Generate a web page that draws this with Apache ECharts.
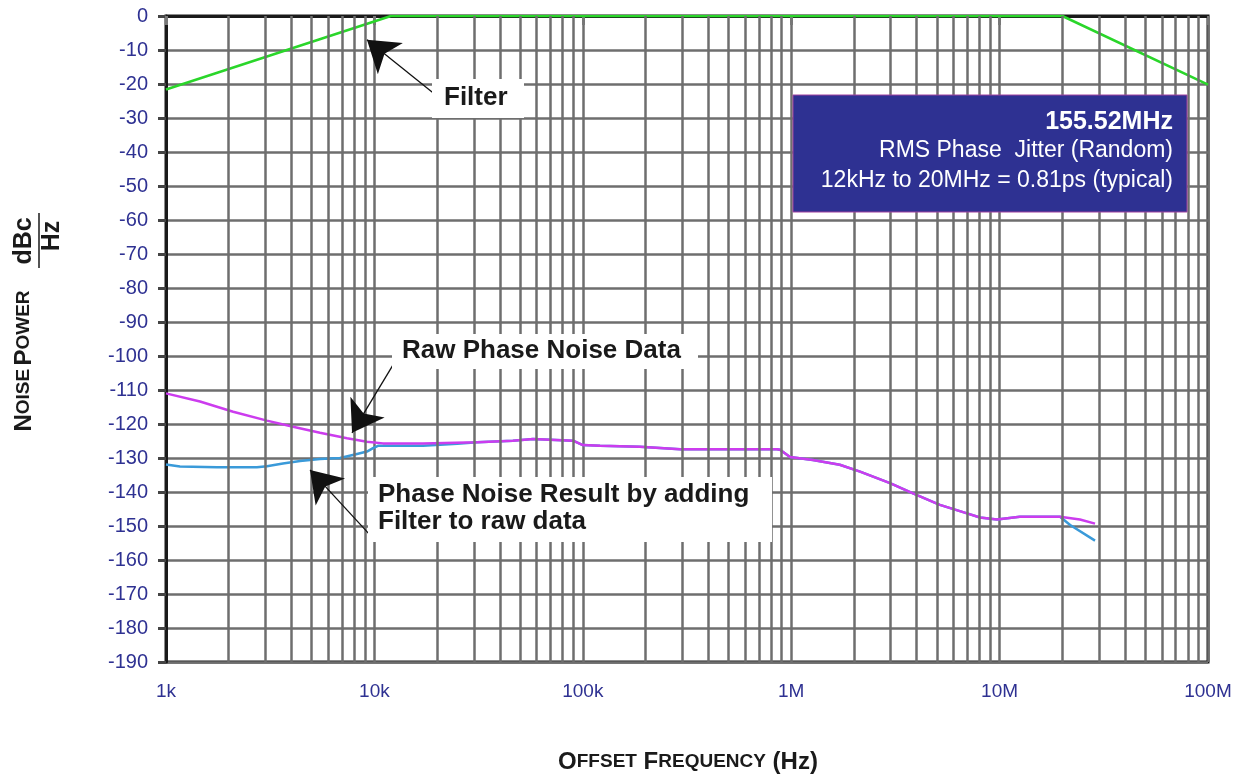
<!DOCTYPE html>
<html>
<head>
<meta charset="utf-8">
<script src="https://cdn.jsdelivr.net/npm/echarts@6/dist/echarts.min.js"></script>
<style>
  html, body { margin: 0; padding: 0; background: #fff; }
  #main { width: 1238px; height: 781px; }
</style>
</head>
<body>
<div id="main"></div>
<script>
// 滤波器响应
var filterFreq = [1000, 12000, 20000000, 100000000];
var filterDb = [-21.6, 0, 0, -20.2];

// 原始相位噪声
var rawFreq = [1000, 1456, 2100, 3050, 4070, 5480, 7390, 9210, 11000, 17100, 31100, 46200, 57700, 89800,
    100000, 121000, 188000, 293000, 855000, 884000, 987000, 1270000, 1710000, 2140000, 2980000, 3840000,
    5170000, 6980000, 8050000, 9710000, 12500000, 19500000, 24300000, 28700000];
var rawDb = [-111.0, -113.4, -116.4, -119.0, -120.8, -122.6, -124.2, -125.2, -125.7, -125.7, -125.4, -124.9, -124.4, -124.9,
    -126.2, -126.4, -126.7, -127.4, -127.4, -127.6, -129.7, -130.6, -132.0, -134.0, -137.4, -140.4,
    -143.8, -146.3, -147.5, -148.1, -147.3, -147.3, -148.1, -149.3];

// 加滤波后的结果
var resultFreq = [1000, 1167, 1757, 2730, 3050, 3640, 4400, 5480, 6840, 8250, 9210, 9850, 10400, 17100, 25000,
    31100, 46200, 57700, 89800, 100000, 121000, 188000, 293000, 855000, 884000, 987000, 1270000, 1710000,
    2140000, 2980000, 3840000, 5170000, 6980000, 8050000, 9710000, 12500000, 19500000, 21800000, 28700000];
var resultDb = [-131.9, -132.5, -132.7, -132.7, -132.4, -131.6, -130.9, -130.3, -130.0, -128.8, -128.1, -127.1, -126.4, -126.4, -125.8,
    -125.4, -124.9, -124.4, -124.9, -126.2, -126.4, -126.7, -127.4, -127.4, -127.6, -129.7, -130.6, -132.0,
    -134.0, -137.4, -140.4, -143.8, -146.3, -147.5, -148.1, -147.3, -147.3, -149.7, -154.3];

var xTickLabels = ['1k', '10k', '100k', '1M', '10M', '100M'];
var decades = [1000, 10000, 100000, 1000000, 10000000];

var font = '"Liberation Sans", Arial, sans-serif';
var axisBlue = '#2e3192';
var gridGray = '#6e6e6e';

var pairs = function (xs, ys) {
    return xs.map(function (x, i) { return [x, ys[i]]; });
};

// 对数网格的次刻度线
var minorLines = [];
decades.forEach(function (d) {
    for (var k = 2; k <= 9; k++) {
        minorLines.push({ xAxis: d * k });
    }
});

var arrow = function (from, to) {
    return [{ coord: from }, { coord: to }];
};

var myChart = echarts.init(document.getElementById('main')),
    option = {
        animation: false,
        textStyle: { fontFamily: font },
        grid: {
            left: 166,
            right: 30,
            top: 16,
            bottom: 119,
            show: true,
            borderColor: '#1a1a1a',
            borderWidth: 3,
            backgroundColor: 'transparent'
        },
        xAxis: {
            type: 'log',
            logBase: 10,
            min: 1000,
            max: 100000000,
            axisLine: { show: true, lineStyle: { color: '#1a1a1a', width: 3 } },
            axisTick: { show: true, length: 9, lineStyle: { color: '#777', width: 3 } },
            axisLabel: {
                color: axisBlue,
                fontSize: 19,
                margin: 20,
                formatter: function (v) {
                    return xTickLabels[Math.round(Math.log10(v)) - 3];
                }
            },
            splitLine: { show: true, lineStyle: { color: gridGray, width: 2.5 } }
        },
        yAxis: {
            type: 'value',
            min: -190,
            max: 0,
            interval: 10,
            axisLine: { show: true, lineStyle: { color: '#1a1a1a', width: 3 } },
            axisTick: { show: true, length: 8, lineStyle: { color: '#444', width: 3 } },
            axisLabel: { color: axisBlue, fontSize: 20, margin: 18 },
            splitLine: { show: true, lineStyle: { color: gridGray, width: 2.5 } }
        },
        series: [
            {
                name: 'grid',
                type: 'line',
                data: [],
                z: 1,
                silent: true,
                markLine: {
                    silent: true,
                    symbol: ['none', 'none'],
                    label: { show: false },
                    lineStyle: { color: gridGray, width: 2.5, type: 'solid' },
                    data: minorLines
                }
            },
            {
                name: 'Filter',
                type: 'line',
                data: pairs(filterFreq, filterDb),
                showSymbol: false,
                z: 3,
                lineStyle: { color: '#2ad62a', width: 2.5 }
            },
            {
                name: 'Result',
                type: 'line',
                data: pairs(resultFreq, resultDb),
                showSymbol: false,
                z: 3,
                lineStyle: { color: '#3a9ad9', width: 2.5 }
            },
            {
                name: 'Raw',
                type: 'line',
                data: pairs(rawFreq, rawDb),
                showSymbol: false,
                z: 4,
                lineStyle: { color: '#cc3cee', width: 2.5 }
            },
            {
                name: 'arrows',
                type: 'line',
                data: [],
                z: 5,
                silent: true,
                markLine: {
                    silent: true,
                    symbol: ['none', 'arrow'],
                    symbolSize: 30,
                    label: { show: false },
                    lineStyle: { color: '#111', width: 1.3, type: 'solid' },
                    itemStyle: { color: '#111' },
                    data: [
                        arrow([19500, -23.0], [9210, -7.0]),
                        arrow([12600, -101.5], [7810, -122.6]),
                        arrow([9520, -152.6], [4910, -133.5])
                    ]
                }
            }
        ],
        graphic: [
            // 注释文字
            { type: 'rect', z: 100, shape: { x: 432, y: 79, width: 92, height: 39 }, style: { fill: '#fff' } },
            { type: 'text', z: 101, x: 444, y: 98, style: { text: 'Filter', font: 'bold 26px ' + font, fill: '#1a1a1a', verticalAlign: 'middle' } },
            { type: 'rect', z: 100, shape: { x: 392, y: 334, width: 306, height: 35 }, style: { fill: '#fff' } },
            { type: 'text', z: 101, x: 402, y: 351, style: { text: 'Raw Phase Noise Data', font: 'bold 26px ' + font, fill: '#1a1a1a', verticalAlign: 'middle' } },
            { type: 'rect', z: 100, shape: { x: 368, y: 477, width: 404, height: 65 }, style: { fill: '#fff' } },
            { type: 'text', z: 101, x: 378, y: 495, style: { text: 'Phase Noise Result by adding', font: 'bold 26px ' + font, fill: '#1a1a1a', verticalAlign: 'middle' } },
            { type: 'text', z: 101, x: 378, y: 522, style: { text: 'Filter to raw data', font: 'bold 26px ' + font, fill: '#1a1a1a', verticalAlign: 'middle' } },
            // 抖动信息框
            { type: 'rect', z: 100, shape: { x: 793, y: 95, width: 394, height: 117 }, style: { fill: '#2e3192', stroke: '#a0409f', lineWidth: 1 } },
            { type: 'text', z: 101, x: 1173, y: 122, style: { text: '155.52MHz', font: 'bold 25px ' + font, fill: '#fff', align: 'right', verticalAlign: 'middle' } },
            { type: 'text', z: 101, x: 1173, y: 151, style: { text: 'RMS Phase  Jitter (Random)', font: '23px ' + font, fill: '#fff', align: 'right', verticalAlign: 'middle' } },
            { type: 'text', z: 101, x: 1173, y: 181, style: { text: '12kHz to 20MHz = 0.81ps (typical)', font: '23px ' + font, fill: '#fff', align: 'right', verticalAlign: 'middle' } },
            // 坐标轴标题
            {
                type: 'text', z: 101, x: 688, y: 762,
                style: {
                    text: '{b|O}{s|FFSET}  {b|F}{s|REQUENCY}  {b|(Hz)}',
                    align: 'center', verticalAlign: 'middle', fill: '#1a1a1a',
                    rich: {
                        b: { font: 'bold 24px ' + font, fill: '#1a1a1a' },
                        s: { font: 'bold 19px ' + font, fill: '#1a1a1a' }
                    }
                }
            },
            {
                type: 'text', z: 101, x: 24, y: 361, rotation: Math.PI / 2,
                style: {
                    text: '{b|N}{s|OISE} {b|P}{s|OWER}',
                    align: 'center', verticalAlign: 'middle', fill: '#1a1a1a',
                    rich: {
                        b: { font: 'bold 24px ' + font, fill: '#1a1a1a' },
                        s: { font: 'bold 19px ' + font, fill: '#1a1a1a' }
                    }
                }
            },
            { type: 'text', z: 101, x: 24, y: 241, rotation: Math.PI / 2, style: { text: 'dBc', font: 'bold 25px ' + font, fill: '#1a1a1a', align: 'center', verticalAlign: 'middle' } },
            { type: 'line', z: 101, shape: { x1: 39, y1: 213, x2: 39, y2: 268 }, style: { stroke: '#1a1a1a', lineWidth: 1.5 } },
            { type: 'text', z: 101, x: 52, y: 236, rotation: Math.PI / 2, style: { text: 'Hz', font: 'bold 25px ' + font, fill: '#1a1a1a', align: 'center', verticalAlign: 'middle' } }
        ]
    };
myChart.setOption(option);
</script>
</body>
</html>
